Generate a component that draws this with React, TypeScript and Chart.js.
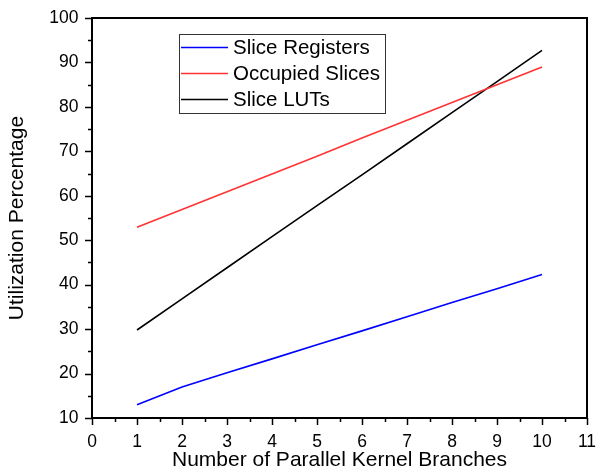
import React, { useEffect, useRef } from "react";
import { Chart, registerables } from "chart.js";

Chart.register(...registerables);

// Number of parallel kernel branches on the x axis
const branches = [1, 2, 3, 4, 5, 6, 7, 8, 9, 10];

// Utilization (%) per resource type
const sliceRegisters = [13, 17, 20.2, 23.3, 26.5, 29.6, 32.8, 36, 39.1, 42.3];
const occupiedSlices = [52.9, 56.9, 60.9, 64.9, 68.9, 73, 77, 81, 85, 89];
const sliceLUTs = [29.8, 36.8, 43.8, 50.8, 57.8, 64.7, 71.7, 78.7, 85.7, 92.7];

const seriesNames = ["Slice Registers", "Occupied Slices", "Slice LUTs"];
const seriesColors = ["#0000ff", "#ff3333", "#000000"];

// Axis ranges and tick steps
const xRange = [0, 11];
const yRange = [10, 100];
const xStep = 1;
const yStep = 10;

const FONT = "'Liberation Sans', Arial, Helvetica, sans-serif";

// Draws outward major/minor tick marks, the closing frame, and the boxed legend
const decorPlugin = {
  id: "decor",
  afterDraw(chart: any) {
    const ctx = chart.ctx;
    const { left, right, top, bottom } = chart.chartArea;
    const xs = chart.scales.x;
    const ys = chart.scales.y;
    ctx.save();
    ctx.strokeStyle = "#000";
    ctx.lineWidth = 2;
    ctx.beginPath();
    ctx.moveTo(left - 1, top);
    ctx.lineTo(right, top);
    ctx.lineTo(right, bottom + 1);
    ctx.stroke();

    ctx.lineWidth = 1.5;
    const major = 7;
    const minor = 4;
    for (let v = xRange[0]; v <= xRange[1] + 1e-9; v += xStep / 2) {
      const px = Math.round(xs.getPixelForValue(v)) + 0.5;
      const isMajor = Math.abs(v - Math.round(v / xStep) * xStep) < 1e-9;
      ctx.beginPath();
      ctx.moveTo(px, bottom);
      ctx.lineTo(px, bottom + (isMajor ? major : minor));
      ctx.stroke();
    }
    for (let v = yRange[0]; v <= yRange[1] + 1e-9; v += yStep / 2) {
      const py = Math.round(ys.getPixelForValue(v)) + 0.5;
      const isMajor = Math.abs(v / yStep - Math.round(v / yStep)) < 1e-9;
      ctx.beginPath();
      ctx.moveTo(left, py);
      ctx.lineTo(left - (isMajor ? major : minor), py);
      ctx.stroke();
    }

    // Legend box
    const bx = 179.5, by = 34.5, bw = 206, bh = 79;
    ctx.lineWidth = 1;
    ctx.strokeStyle = "#333";
    ctx.fillStyle = "#fff";
    ctx.fillRect(bx, by, bw, bh);
    ctx.strokeRect(bx, by, bw, bh);
    ctx.font = `20.5px ${FONT}`;
    ctx.textBaseline = "middle";
    chart.data.datasets.forEach((ds: any, i: number) => {
      const cy = 47 + i * 26;
      ctx.strokeStyle = ds.borderColor;
      ctx.lineWidth = 1.5;
      ctx.beginPath();
      ctx.moveTo(181, cy + 0.5);
      ctx.lineTo(228, cy + 0.5);
      ctx.stroke();
      ctx.fillStyle = "#000";
      ctx.fillText(ds.label, 233, cy + 1);
    });
    ctx.restore();
  },
};

function clearPadding(scale: any) {
  scale.paddingLeft = 0;
  scale.paddingRight = 0;
  scale.paddingTop = 0;
  scale.paddingBottom = 0;
}

export default function App() {
  const canvasRef = useRef<HTMLCanvasElement | null>(null);

  useEffect(() => {
    const canvas = canvasRef.current;
    if (!canvas) return;
    const seriesValues = [sliceRegisters, occupiedSlices, sliceLUTs];
    const chart = new Chart(canvas, {
      type: "line",
      data: {
        datasets: seriesValues.map((vals, i) => ({
          label: seriesNames[i],
          data: branches.map((b, j) => ({ x: b, y: vals[j] })),
          borderColor: seriesColors[i],
          backgroundColor: seriesColors[i],
          borderWidth: 1.6,
          pointRadius: 0,
          tension: 0,
          fill: false,
        })),
      },
      options: {
        animation: false,
        responsive: false,
        devicePixelRatio: 1,
        layout: { padding: { left: 0, top: 18, right: 11, bottom: 0 } },
        plugins: {
          legend: { display: false },
          tooltip: { enabled: false },
        },
        scales: {
          x: {
            type: "linear",
            min: xRange[0],
            max: xRange[1],
            grid: { display: false, drawTicks: false },
            border: { display: true, color: "#000", width: 2 },
            ticks: {
              stepSize: xStep,
              color: "#000",
              font: { family: FONT, size: 17.5 },
              padding: 13.5,
              maxRotation: 0,
            },
            title: {
              display: true,
              text: "Number of Parallel Kernel Branches",
              color: "#000",
              font: { family: FONT, size: 21 },
              padding: { top: 0, bottom: 2 },
            },
            afterFit(scale: any) {
              scale.height = 57;
              clearPadding(scale);
            },
          },
          y: {
            type: "linear",
            min: yRange[0],
            max: yRange[1],
            grid: { display: false, drawTicks: false },
            border: { display: true, color: "#000", width: 2 },
            ticks: {
              stepSize: yStep,
              color: "#000",
              font: { family: FONT, size: 17.5 },
              padding: 13.5,
            },
            title: {
              display: true,
              text: "Utilization Percentage",
              color: "#000",
              font: { family: FONT, size: 21 },
              padding: { top: 5, bottom: 0 },
            },
            afterFit(scale: any) {
              scale.width = 92;
              clearPadding(scale);
            },
          },
        },
      },
      plugins: [decorPlugin],
    } as any);
    return () => chart.destroy();
  }, []);

  return (
    <div style={{ position: "absolute", left: 0, top: 0, width: 598, height: 475, background: "#fff" }}>
      <canvas ref={canvasRef} width={598} height={475} style={{ width: 598, height: 475, display: "block" }} />
    </div>
  );
}
